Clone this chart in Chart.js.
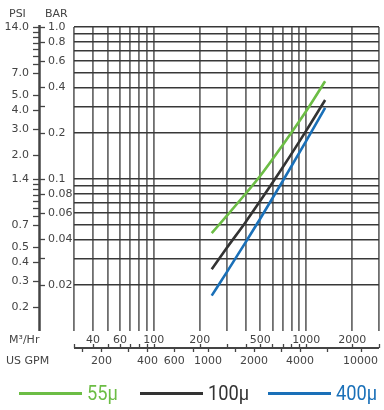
<!DOCTYPE html>
<html>
<head>
<meta charset="utf-8">
<script src="https://cdn.jsdelivr.net/npm/chart.js@4.4.1/dist/chart.umd.min.js"></script>
<style>
  html, body { margin: 0; padding: 0; background: #fff; }
  #wrap { position: relative; width: 384px; height: 410px; }
  #legend { position: absolute; left: 0; top: 379px; width: 384px; height: 30px;
            font-family: Roboto, sans-serif; font-size: 21px; }
  .item { position: absolute; top: 0; height: 28px; display: flex; align-items: center; }
  .swatch { width: 63px; height: 3px; margin-right: 5px; }
  .item span { display: inline-block; transform: scaleX(0.87); transform-origin: left center; }
</style>
</head>
<body>
<div id="wrap">
  <canvas id="chart"></canvas>
  <div id="legend"></div>
</div>
<script>
// Flow (M³/Hr) and pressure drop (BAR)
const flow = [240, 300, 400, 500, 700, 1000, 1330];
const drop55 = [0.044, 0.057, 0.080, 0.105, 0.167, 0.28, 0.44];
const drop100 = [0.0255, 0.035, 0.052, 0.072, 0.119, 0.208, 0.331];
const drop400 = [0.0171, 0.0242, 0.0383, 0.055, 0.0966, 0.178, 0.294];

const seriesNames = ['55μ', '100μ', '400μ'];
const seriesColors = ['#6cbd45', '#333333', '#1a70b8'];

// Axes
const flowGrid = [30, 40, 50, 60, 70, 80, 90, 100, 200, 300, 400, 500, 600, 700, 800, 900, 1000, 2000, 3000];
const flowLabels = [40, 60, 100, 200, 500, 1000, 2000];
const gpmTicks = [150, 200, 300, 400, 600, 800, 1000, 1500, 2000, 3000, 4000, 6000, 10000];
const gpmLabels = [200, 400, 600, 1000, 2000, 4000, 10000];
const barGrid = [1, 0.9, 0.8, 0.7, 0.6, 0.5, 0.4, 0.3, 0.2, 0.1, 0.09, 0.08, 0.07, 0.06, 0.05, 0.04, 0.03, 0.02];
const barTicks = [1, 0.8, 0.6, 0.4, 0.3, 0.2, 0.1, 0.08, 0.06, 0.04, 0.03, 0.02];
const barLabels = ['1.0', '0.8', '0.6', '0.4', '0.2', '0.1', '0.08', '0.06', '0.04', '0.02'];
const psiTicks = [14, 13, 12, 11, 10, 9, 8, 7, 5, 4, 3, 2, 1.4, 1.3, 1.2, 1.1, 1.0, 0.9, 0.8, 0.7, 0.5, 0.4, 0.3, 0.2];
const psiLabels = ['14.0', '7.0', '5.0', '4.0', '3.0', '2.0', '1.4', '0.7', '0.5', '0.4', '0.3', '0.2'];
const PSI_PER_BAR = 14;
const GPM_PER_M3H = 4.403;

const axisColor = '#444';
const font = '11px "DejaVu Sans", sans-serif';

function toPoints(ys) {
  return flow.map((f, i) => ({ x: f, y: ys[i] }));
}

// left (PSI / BAR) and bottom (M³/Hr / US GPM) axes
const axesPlugin = {
  id: 'axes',
  afterDraw(chart) {
    const { ctx, chartArea: area } = chart;
    const x = chart.scales.x, y = chart.scales.y;
    const line = (x1, y1, x2, y2, w) => {
      ctx.lineWidth = w;
      ctx.beginPath(); ctx.moveTo(x1, y1); ctx.lineTo(x2, y2); ctx.stroke();
    };
    ctx.save();
    ctx.font = font;
    ctx.fillStyle = axisColor;
    ctx.strokeStyle = axisColor;

    // titles
    ctx.textAlign = 'left';
    ctx.textBaseline = 'alphabetic';
    ctx.fillText('PSI', 9, 17);
    ctx.fillText('BAR', 45, 17);

    // vertical axis
    const ax = 39.5;
    line(ax, area.top - 2, ax, area.bottom, 2.5);
    ctx.textBaseline = 'middle';
    psiTicks.forEach(p => {
      const py = Math.round(y.getPixelForValue(p / PSI_PER_BAR)) + 0.5;
      line(33, py, ax, py, 1.3);
    });
    ctx.textAlign = 'right';
    psiLabels.forEach(p => {
      ctx.fillText(p, 29, y.getPixelForValue(parseFloat(p) / PSI_PER_BAR));
    });
    barTicks.forEach(b => {
      const py = Math.round(y.getPixelForValue(b)) + 0.5;
      line(ax, py, 45, py, 1.3);
    });
    ctx.textAlign = 'left';
    barLabels.forEach(b => {
      ctx.fillText(b, 48, y.getPixelForValue(parseFloat(b)));
    });

    // horizontal axis
    const ay = 348;
    line(area.left, ay, area.right, ay, 2);
    flowGrid.forEach(f => {
      const px = Math.round(x.getPixelForValue(f)) + 0.5;
      line(px, ay - 4, px, ay, 1.3);
    });
    gpmTicks.forEach(g => {
      const px = Math.round(x.getPixelForValue(g / GPM_PER_M3H)) + 0.5;
      line(px, ay, px, ay + 4, 1.3);
    });
    ctx.textAlign = 'center';
    ctx.textBaseline = 'alphabetic';
    flowLabels.forEach(f => ctx.fillText(String(f), x.getPixelForValue(f), 343));
    gpmLabels.forEach(g => ctx.fillText(String(g), x.getPixelForValue(g / GPM_PER_M3H), 364));
    ctx.textAlign = 'left';
    ctx.fillText('M³/Hr', 9, 343);
    ctx.fillText('US GPM', 6, 364);
    ctx.restore();
  }
};

const chart = new Chart(document.getElementById('chart'), {
  type: 'line',
  data: {
    datasets: [drop55, drop100, drop400].map((d, i) => ({
      label: seriesNames[i],
      data: toPoints(d),
      borderColor: seriesColors[i],
      borderWidth: 2.6,
      pointRadius: 0,
      tension: 0.4,
      cubicInterpolationMode: 'monotone'
    }))
  },
  options: {
    responsive: true,
    maintainAspectRatio: false,
    animation: false,
    layout: { padding: { left: 74, top: 27, right: 5, bottom: 79 } },
    plugins: { legend: { display: false }, tooltip: { enabled: false } },
    scales: {
      x: {
        type: 'logarithmic',
        min: 30, max: 3000,
        afterBuildTicks: s => { s.ticks = flowGrid.map(v => ({ value: v })); },
        ticks: { display: false },
        border: { display: false },
        grid: { color: '#6e6e6e', lineWidth: 1.8, drawTicks: false }
      },
      y: {
        type: 'logarithmic',
        min: 0.01, max: 1,
        afterBuildTicks: s => { s.ticks = barGrid.map(v => ({ value: v })); },
        ticks: { display: false },
        border: { display: false },
        grid: { color: '#383838', lineWidth: 1.5, drawTicks: false }
      }
    }
  },
  plugins: [axesPlugin]
});

// Legend
const legendPos = [19, 140, 268];
const legend = document.getElementById('legend');
seriesNames.forEach((name, i) => {
  const item = document.createElement('div');
  item.className = 'item';
  item.style.left = legendPos[i] + 'px';
  item.style.color = seriesColors[i];
  item.innerHTML = `<div class="swatch" style="background:${seriesColors[i]}"></div><span>${name}</span>`;
  legend.appendChild(item);
});
</script>
</body>
</html>
